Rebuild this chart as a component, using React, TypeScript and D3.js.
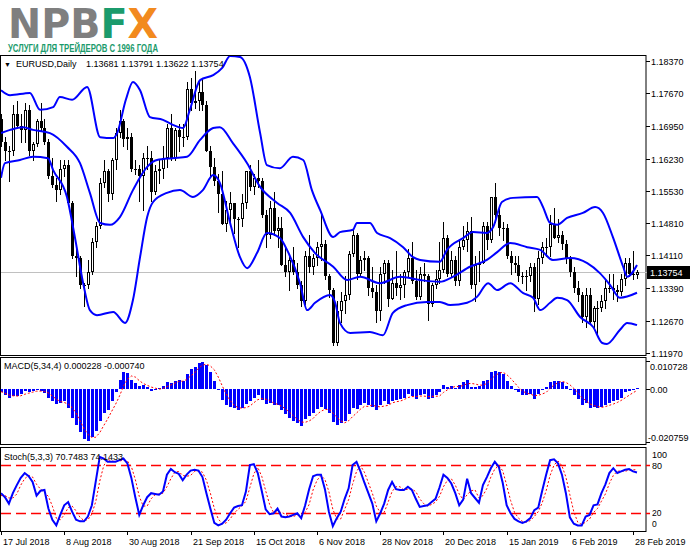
import React from "react";
import * as d3 from "d3";

const TIME_LABELS = ["17 Jul 2018", "8 Aug 2018", "30 Aug 2018", "21 Sep 2018", "15 Oct 2018", "6 Nov 2018", "28 Nov 2018", "20 Dec 2018", "15 Jan 2019", "6 Feb 2019", "28 Feb 2019"];
const BARS_PER_LABEL = 16;
const PRICE_TICKS = [1.1837, 1.1767, 1.1695, 1.1623, 1.1553, 1.1481, 1.1411, 1.1339, 1.1267, 1.1197];
const MACD_RANGE = [-0.020759, 0.010728];
const MACD_TICK_LABELS = ["0.010728", "0.00", "-0.020759"];
const STOCH_TICKS = [100, 80, 20, 0];
const STOCH_LEVELS = [80, 20];
const LAST_PRICE = 1.13754;

const OPEN = [
  1.1710, 1.1660, 1.1640, 1.1640, 1.1720, 1.1695, 1.1685, 1.1730, 1.1640, 1.1655,
  1.1705, 1.1690, 1.1660, 1.1585, 1.1565, 1.1555, 1.1600, 1.1610, 1.1525, 1.1410,
  1.1405, 1.1345, 1.1345, 1.1375, 1.1440, 1.1475, 1.1570, 1.1595, 1.1545, 1.1620,
  1.1680, 1.1705, 1.1665, 1.1670, 1.1600, 1.1600, 1.1585, 1.1625, 1.1625, 1.1550,
  1.1595, 1.1600, 1.1625, 1.1690, 1.1625, 1.1685, 1.1670, 1.1670, 1.1775, 1.1745,
  1.1750, 1.1770, 1.1740, 1.1640, 1.1605, 1.1575, 1.1545, 1.1480, 1.1510, 1.1525,
  1.1490, 1.1490, 1.1525, 1.1595, 1.1560, 1.1580, 1.1575, 1.1500, 1.1455, 1.1515,
  1.1465, 1.1470, 1.1390, 1.1375, 1.1400, 1.1375, 1.1345, 1.1310, 1.1410, 1.1385,
  1.1405, 1.1430, 1.1435, 1.1365, 1.1335, 1.1220, 1.1290, 1.1310, 1.1325, 1.1415,
  1.1455, 1.1370, 1.1400, 1.1405, 1.1340, 1.1330, 1.1290, 1.1370, 1.1395, 1.1315,
  1.1350, 1.1340, 1.1345, 1.1375, 1.1405, 1.1355, 1.1320, 1.1370, 1.1365, 1.1305,
  1.1345, 1.1360, 1.1380, 1.1450, 1.1370, 1.1400, 1.1355, 1.1430, 1.1445, 1.1465,
  1.1345, 1.1390, 1.1395, 1.1475, 1.1445, 1.1540, 1.1500, 1.1470, 1.1470, 1.1410,
  1.1395, 1.1390, 1.1365, 1.1365, 1.1365, 1.1385, 1.1315, 1.1405, 1.1430, 1.1430,
  1.1480, 1.1450, 1.1455, 1.1435, 1.1405, 1.1375, 1.1340, 1.1325, 1.1275, 1.1325,
  1.1265, 1.1295, 1.1295, 1.1310, 1.1340, 1.1340, 1.1335, 1.1330, 1.1360, 1.1395,
  1.1370, 1.13681,
];
const HIGH = [
  1.1720, 1.1670, 1.1650, 1.1740, 1.1750, 1.1720, 1.1745, 1.1740, 1.1660, 1.1710,
  1.1745, 1.1710, 1.1665, 1.1625, 1.1580, 1.1620, 1.1620, 1.1620, 1.1530, 1.1435,
  1.1410, 1.1350, 1.1400, 1.1450, 1.1485, 1.1580, 1.1620, 1.1600, 1.1625, 1.1690,
  1.1730, 1.1710, 1.1690, 1.1680, 1.1620, 1.1610, 1.1635, 1.1650, 1.1640, 1.1610,
  1.1620, 1.1650, 1.1700, 1.1720, 1.1690, 1.1700, 1.1700, 1.1790, 1.1800, 1.1815,
  1.1790, 1.1800, 1.1750, 1.1650, 1.1625, 1.1590, 1.1595, 1.1530, 1.1550, 1.1525,
  1.1495, 1.1545, 1.1595, 1.1610, 1.1590, 1.1620, 1.1580, 1.1510, 1.1530, 1.1550,
  1.1495, 1.1495, 1.1430, 1.1410, 1.1430, 1.1395, 1.1355, 1.1420, 1.1455, 1.1415,
  1.1440, 1.1500, 1.1445, 1.1370, 1.1340, 1.1310, 1.1330, 1.1365, 1.1420, 1.1470,
  1.1460, 1.1410, 1.1420, 1.1410, 1.1385, 1.1345, 1.1385, 1.1400, 1.1400, 1.1380,
  1.1420, 1.1370, 1.1380, 1.1425, 1.1440, 1.1380, 1.1385, 1.1395, 1.1370, 1.1350,
  1.1380, 1.1440, 1.1485, 1.1455, 1.1420, 1.1410, 1.1445, 1.1475, 1.1485, 1.1495,
  1.1410, 1.1420, 1.1485, 1.1485, 1.1540, 1.1570, 1.1520, 1.1485, 1.1480, 1.1420,
  1.1410, 1.1410, 1.1375, 1.1380, 1.1395, 1.1395, 1.1420, 1.1440, 1.1450, 1.1500,
  1.1515, 1.1490, 1.1465, 1.1445, 1.1410, 1.1385, 1.1355, 1.1330, 1.1340, 1.1340,
  1.1300, 1.1310, 1.1325, 1.1360, 1.1370, 1.1370, 1.1345, 1.1370, 1.1405, 1.1405,
  1.1420, 1.13791,
];
const LOW = [
  1.1650, 1.1620, 1.1575, 1.1630, 1.1690, 1.1660, 1.1660, 1.1630, 1.1620, 1.1650,
  1.1685, 1.1655, 1.1580, 1.1560, 1.1530, 1.1545, 1.1585, 1.1525, 1.1405, 1.1365,
  1.1340, 1.1300, 1.1340, 1.1370, 1.1430, 1.1470, 1.1560, 1.1530, 1.1535, 1.1600,
  1.1670, 1.1650, 1.1645, 1.1595, 1.1590, 1.1530, 1.1510, 1.1600, 1.1530, 1.1545,
  1.1570, 1.1580, 1.1605, 1.1620, 1.1620, 1.1640, 1.1650, 1.1665, 1.1730, 1.1735,
  1.1730, 1.1730, 1.1640, 1.1585, 1.1565, 1.1505, 1.1480, 1.1465, 1.1485, 1.1460,
  1.1430, 1.1475, 1.1515, 1.1555, 1.1545, 1.1560, 1.1495, 1.1430, 1.1450, 1.1455,
  1.1430, 1.1390, 1.1365, 1.1335, 1.1370, 1.1340, 1.1300, 1.1305, 1.1375, 1.1370,
  1.1390, 1.1400, 1.1360, 1.1320, 1.1215, 1.1215, 1.1265, 1.1285, 1.1315, 1.1410,
  1.1360, 1.1365, 1.1380, 1.1325, 1.1320, 1.1265, 1.1270, 1.1350, 1.1300, 1.1315,
  1.1325, 1.1315, 1.1320, 1.1365, 1.1350, 1.1315, 1.1315, 1.1355, 1.1270, 1.1300,
  1.1340, 1.1350, 1.1375, 1.1365, 1.1365, 1.1345, 1.1345, 1.1425, 1.1420, 1.1340,
  1.1310, 1.1355, 1.1395, 1.1425, 1.1440, 1.1485, 1.1455, 1.1445, 1.1405, 1.1370,
  1.1375, 1.1355, 1.1350, 1.1335, 1.1355, 1.1290, 1.1305, 1.1395, 1.1410, 1.1410,
  1.1450, 1.1440, 1.1425, 1.1395, 1.1365, 1.1330, 1.1310, 1.1265, 1.1255, 1.1260,
  1.1250, 1.1235, 1.1290, 1.1295, 1.1330, 1.1315, 1.1310, 1.1325, 1.1345, 1.1365,
  1.1360, 1.13622,
];
const CLOSE = [
  1.1660, 1.1640, 1.1640, 1.1720, 1.1695, 1.1685, 1.1730, 1.1640, 1.1655, 1.1705,
  1.1690, 1.1660, 1.1585, 1.1565, 1.1555, 1.1600, 1.1610, 1.1525, 1.1410, 1.1405,
  1.1345, 1.1345, 1.1375, 1.1440, 1.1475, 1.1570, 1.1595, 1.1545, 1.1620, 1.1680,
  1.1705, 1.1665, 1.1670, 1.1600, 1.1600, 1.1585, 1.1625, 1.1625, 1.1550, 1.1595,
  1.1600, 1.1625, 1.1690, 1.1625, 1.1685, 1.1670, 1.1670, 1.1775, 1.1745, 1.1750,
  1.1770, 1.1740, 1.1640, 1.1605, 1.1575, 1.1545, 1.1480, 1.1510, 1.1525, 1.1490,
  1.1490, 1.1525, 1.1595, 1.1560, 1.1580, 1.1575, 1.1500, 1.1455, 1.1515, 1.1465,
  1.1470, 1.1390, 1.1375, 1.1400, 1.1375, 1.1345, 1.1310, 1.1410, 1.1385, 1.1405,
  1.1430, 1.1435, 1.1365, 1.1335, 1.1220, 1.1290, 1.1310, 1.1325, 1.1415, 1.1455,
  1.1370, 1.1400, 1.1405, 1.1340, 1.1330, 1.1290, 1.1370, 1.1395, 1.1315, 1.1350,
  1.1340, 1.1345, 1.1375, 1.1405, 1.1355, 1.1320, 1.1370, 1.1365, 1.1305, 1.1345,
  1.1360, 1.1380, 1.1450, 1.1370, 1.1400, 1.1355, 1.1430, 1.1445, 1.1465, 1.1345,
  1.1390, 1.1395, 1.1475, 1.1445, 1.1540, 1.1500, 1.1470, 1.1470, 1.1410, 1.1395,
  1.1390, 1.1365, 1.1365, 1.1365, 1.1385, 1.1315, 1.1405, 1.1430, 1.1430, 1.1480,
  1.1450, 1.1455, 1.1435, 1.1405, 1.1375, 1.1340, 1.1325, 1.1275, 1.1325, 1.1265,
  1.1295, 1.1295, 1.1310, 1.1340, 1.1340, 1.1335, 1.1330, 1.1360, 1.1395, 1.1370,
  1.1368, 1.13754,
];

// Bollinger bands: [bar index, price]
const BB_UPPER = [
  [0, 1.1773], [2.3, 1.1762], [7.3, 1.1767], [9.9, 1.1730], [13.2, 1.1736], [14.9, 1.1758], [18, 1.1752],
  [21.8, 1.1780], [25.1, 1.1670], [28.4, 1.1668], [29.4, 1.1679], [31.6, 1.1752], [33.4, 1.1791], [35.2, 1.1773],
  [37.7, 1.1714], [41, 1.1708], [43.5, 1.1697], [46.1, 1.1690], [47.8, 1.1730], [50.4, 1.1795], [53.7, 1.1806],
  [56, 1.1822], [58, 1.1848], [60.5, 1.1846], [63, 1.1802], [65.6, 1.1679], [67.3, 1.1609], [70.6, 1.1602],
  [73.9, 1.1627], [76.5, 1.1620], [78.7, 1.1554], [80.8, 1.1510], [84.1, 1.1451], [85.8, 1.1462], [89.1, 1.1467],
  [90.1, 1.1482], [93.4, 1.1482], [95.2, 1.1460], [98.5, 1.1449], [101.8, 1.1429], [104.3, 1.1407], [106.1, 1.1401],
  [111.1, 1.1397], [112.9, 1.1423], [117, 1.1449], [119.5, 1.1462], [123, 1.1460], [124.6, 1.1473], [126.8, 1.1528],
  [129.6, 1.1537], [135.7, 1.1539], [137.2, 1.1517], [139, 1.1482], [140.8, 1.1478], [143.3, 1.1493], [147.3, 1.1504],
  [150.4, 1.1517], [152.4, 1.1504], [154.9, 1.1451], [157.5, 1.1386], [158.5, 1.1364], [161, 1.1390],
];
const BB_MIDDLE = [
  [0, 1.1679], [2.3, 1.1686], [5.6, 1.1692], [8.1, 1.1686], [12.4, 1.1679], [16.7, 1.1649], [20, 1.1613],
  [22.5, 1.1548], [25.1, 1.1482], [27.6, 1.1478], [30.1, 1.1495], [33.4, 1.1554], [37, 1.1605], [39.5, 1.1620],
  [43.5, 1.1624], [47.1, 1.1627], [50.4, 1.1664], [53.7, 1.1690], [55.4, 1.1692], [58.7, 1.1657], [62.3, 1.1613],
  [65.6, 1.1561], [69.9, 1.1526], [73.2, 1.1504], [76.5, 1.1451], [79.5, 1.1416], [84.1, 1.1386], [87.6, 1.1357],
  [90.9, 1.1364], [95.9, 1.1350], [101, 1.1364], [106.1, 1.1357], [111.1, 1.1353], [114.4, 1.1364], [118.7, 1.1386],
  [123, 1.1401], [125.6, 1.1418], [128.9, 1.1438], [133.2, 1.1429], [136.5, 1.1423], [139.7, 1.1401], [144.1, 1.1405],
  [148.4, 1.1394], [151.6, 1.1372], [154.2, 1.1346], [156.7, 1.1318], [161, 1.1329],
];
const BB_LOWER = [
  [0, 1.1581], [1, 1.1613], [4.8, 1.1620], [8.1, 1.1627], [11.9, 1.1624], [13.2, 1.1598], [16.7, 1.1539],
  [18.7, 1.1451], [20.8, 1.1350], [22.5, 1.1291], [24.3, 1.1280], [28.4, 1.1287], [31.4, 1.1263], [33.4, 1.1313],
  [35.2, 1.1407], [37, 1.1495], [38.5, 1.1528], [42, 1.1548], [45.3, 1.1554], [48.6, 1.1539], [51.1, 1.1554],
  [53.7, 1.1587], [55.4, 1.1570], [58, 1.1482], [60.5, 1.1407], [62.3, 1.1383], [64.8, 1.1416], [67.3, 1.1460],
  [70.6, 1.1449], [72.4, 1.1423], [75.7, 1.1350], [77.5, 1.1291], [79.5, 1.1307], [83.3, 1.1324], [84.6, 1.1307],
  [85.8, 1.1263], [88.4, 1.1241], [93.4, 1.1243], [96.7, 1.1236], [99.2, 1.1285], [102.8, 1.1302], [107.8, 1.1309],
  [111.1, 1.1309], [113.7, 1.1302], [118, 1.1307], [120.5, 1.1320], [123.3, 1.1350], [125.6, 1.1335], [128.9, 1.1350],
  [132.2, 1.1328], [134.7, 1.1318], [136.5, 1.1291], [139, 1.1307], [140.8, 1.1318], [143.3, 1.1313], [146.6, 1.1276],
  [149.9, 1.1254], [152.2, 1.1219], [153.4, 1.1217], [156.7, 1.1248], [158.5, 1.1263], [161, 1.1258],
];

const MACD_MAIN = [
  -0.0015, -0.0025, -0.0035, -0.0030, -0.0028, -0.0020, -0.0010, -0.0015, -0.0010, -0.0005,
  -0.0010, -0.0018, -0.0035, -0.0050, -0.0060, -0.0055, -0.0050, -0.0075, -0.0115, -0.0140,
  -0.0170, -0.0195, -0.0205, -0.0190, -0.0165, -0.0125, -0.0095, -0.0085, -0.0050, -0.0015,
  0.0035, 0.0065, 0.0060, 0.0035, 0.0020, 0.0010, 0.0015, 0.0005, -0.0008, -0.0005,
  0.0002, 0.0010, 0.0025, 0.0020, 0.0030, 0.0035, 0.0030, 0.0055, 0.0075, 0.0085,
  0.0100, 0.0105, 0.0090, 0.0065, 0.0030, -0.0005, -0.0045, -0.0065, -0.0070, -0.0075,
  -0.0085, -0.0075, -0.0060, -0.0050, -0.0035, -0.0025, -0.0045, -0.0060, -0.0055, -0.0065,
  -0.0065, -0.0085, -0.0100, -0.0115, -0.0125, -0.0135, -0.0145, -0.0120, -0.0105, -0.0095,
  -0.0080, -0.0070, -0.0080, -0.0095, -0.0130, -0.0140, -0.0135, -0.0125, -0.0100, -0.0075,
  -0.0080, -0.0065, -0.0055, -0.0065, -0.0070, -0.0085, -0.0065, -0.0050, -0.0060, -0.0050,
  -0.0045, -0.0040, -0.0035, -0.0020, -0.0030, -0.0040, -0.0025, -0.0020, -0.0040, -0.0035,
  -0.0025, -0.0015, 0.0015, 0.0005, 0.0010, 0.0002, 0.0015, 0.0025, 0.0035, 0.0005,
  0.0005, 0.0010, 0.0030, 0.0035, 0.0065, 0.0070, 0.0065, 0.0055, 0.0030, 0.0010,
  -0.0005, -0.0015, -0.0025, -0.0025, -0.0020, -0.0040, -0.0020, -0.0005, 0.0005, 0.0025,
  0.0030, 0.0030, 0.0025, 0.0010, -0.0005, -0.0025, -0.0040, -0.0065, -0.0055, -0.0075,
  -0.0070, -0.0075, -0.0070, -0.0065, -0.0055, -0.0050, -0.0045, -0.0035, -0.0015, -0.0010,
  -0.0005, 0.000228,
];
const MACD_SIGNAL = [
  -0.0012, -0.0018, -0.0025, -0.0028, -0.0029, -0.0028, -0.0022, -0.0018, -0.0014, -0.0010,
  -0.0010, -0.0011, -0.0017, -0.0029, -0.0041, -0.0050, -0.0054, -0.0060, -0.0074, -0.0095,
  -0.0125, -0.0155, -0.0178, -0.0190, -0.0189, -0.0171, -0.0144, -0.0118, -0.0089, -0.0061,
  -0.0029, 0.0009, 0.0036, 0.0049, 0.0045, 0.0031, 0.0020, 0.0013, 0.0006, 0.0002,
  -0.0002, 0.0000, 0.0008, 0.0014, 0.0021, 0.0028, 0.0029, 0.0035, 0.0049, 0.0061,
  0.0079, 0.0091, 0.0095, 0.0088, 0.0073, 0.0045, 0.0011, -0.0021, -0.0046, -0.0064,
  -0.0074, -0.0076, -0.0074, -0.0068, -0.0055, -0.0043, -0.0039, -0.0041, -0.0046, -0.0056,
  -0.0061, -0.0068, -0.0079, -0.0091, -0.0106, -0.0119, -0.0130, -0.0131, -0.0126, -0.0116,
  -0.0100, -0.0088, -0.0081, -0.0081, -0.0094, -0.0111, -0.0125, -0.0133, -0.0125, -0.0109,
  -0.0095, -0.0080, -0.0069, -0.0069, -0.0064, -0.0069, -0.0071, -0.0068, -0.0065, -0.0056,
  -0.0051, -0.0049, -0.0043, -0.0035, -0.0031, -0.0031, -0.0029, -0.0029, -0.0031, -0.0030,
  -0.0030, -0.0029, -0.0015, -0.0005, 0.0004, 0.0008, 0.0008, 0.0012, 0.0019, 0.0020,
  0.0018, 0.0014, 0.0013, 0.0020, 0.0035, 0.0050, 0.0059, 0.0064, 0.0055, 0.0040,
  0.0023, 0.0005, -0.0009, -0.0018, -0.0021, -0.0028, -0.0026, -0.0021, -0.0015, 0.0001,
  0.0014, 0.0023, 0.0028, 0.0024, 0.0015, 0.0001, -0.0015, -0.0034, -0.0046, -0.0059,
  -0.0066, -0.0069, -0.0073, -0.0070, -0.0065, -0.0060, -0.0054, -0.0046, -0.0036, -0.0026,
  -0.0016, -0.00074,
];

const STOCH_MAIN = [
  45, 40, 32, 45, 55, 64, 70, 66, 59, 42,
  48, 49, 26, 12, 5, 18, 30, 34, 22, 12,
  10, 10, 16, 30, 60, 90, 88, 84, 84, 84,
  86, 88, 82, 64, 40, 18, 30, 40, 45, 44,
  43, 47, 68, 75, 71, 69, 61, 68, 73, 74,
  73, 65, 45, 26, 8, 5, 7, 12, 20, 27,
  29, 30, 47, 80, 81, 70, 48, 25, 19, 20,
  26, 16, 15, 16, 18, 20, 14, 30, 50, 66,
  68, 68, 50, 22, 4, 14, 22, 38, 51, 80,
  84, 72, 58, 45, 32, 10, 20, 32, 49, 59,
  50, 49, 49, 53, 49, 38, 28, 29, 30, 34,
  38, 52, 68, 64, 57, 45, 30, 37, 63, 45,
  39, 33, 55, 65, 76, 84, 78, 58, 30, 20,
  13, 10, 8, 10, 14, 24, 27, 48, 68, 86,
  87, 82, 68, 45, 15, 7, 5, 5, 16, 18,
  30, 31, 45, 56, 70, 76, 70, 72, 74, 75,
  72, 70.7483,
];
const STOCH_SIGNAL = [
  42, 42, 39, 39, 44, 55, 63, 67, 65, 56,
  50, 46, 41, 29, 14, 12, 18, 27, 29, 23,
  15, 11, 12, 19, 35, 60, 79, 87, 85, 84,
  85, 86, 85, 78, 62, 41, 29, 29, 38, 43,
  44, 45, 53, 63, 71, 72, 67, 66, 67, 72,
  73, 71, 61, 45, 26, 13, 7, 8, 13, 20,
  25, 29, 35, 52, 69, 77, 66, 48, 31, 21,
  22, 21, 19, 16, 16, 18, 17, 21, 31, 49,
  61, 67, 62, 47, 25, 13, 13, 25, 37, 56,
  72, 79, 71, 58, 45, 29, 21, 21, 34, 47,
  53, 53, 49, 50, 50, 47, 38, 32, 29, 31,
  34, 41, 53, 61, 63, 55, 44, 37, 43, 48,
  49, 39, 42, 51, 65, 75, 79, 73, 55, 36,
  21, 14, 10, 9, 11, 16, 22, 33, 48, 67,
  80, 85, 79, 65, 43, 22, 9, 6, 9, 13,
  21, 26, 35, 44, 57, 67, 72, 73, 72, 74,
  74, 74.1433,
];

const FONT = "'Liberation Sans', Arial, sans-serif";

export default function App() {
  const W = 691;
  const H = 549;
  const axisX = 646;
  const mainP = { top: 55.5, bottom: 355.5 };
  const macdP = { top: 357.5, bottom: 444.5 };
  const stochP = { top: 447.5, bottom: 531.5 };
  const n = CLOSE.length;

  const x = d3.scaleLinear().domain([0, n - 1]).range([1, 637]);
  const yP = d3.scaleLinear().domain([1.1197, 1.1837]).range([353, 61]);
  const yM = d3.scaleLinear().domain(MACD_RANGE).range([442, 361]);
  const yS = d3.scaleLinear().domain([0, 100]).range([529.4, 448.9]);
  const fmt5 = d3.format(".5f");

  const bandLine = d3
    .line<number[]>()
    .x((d) => x(d[0]))
    .y((d) => yP(d[1]))
    .curve(d3.curveMonotoneX);
  const macdSig = d3
    .line<number>()
    .x((_, i) => x(i))
    .y((d) => yM(d));
  const stochLine = d3
    .line<number>()
    .x((_, i) => x(i))
    .y((d) => yS(d));

  const yZero = Math.round(yM(0));
  const lastY = Math.round(yP(LAST_PRICE));

  return (
    <svg
      width={W}
      height={H}
      style={{ position: "absolute", left: 0, top: 0, background: "#fff" }}
      fontFamily={FONT}
    >
      <rect x={0} y={0} width={W} height={H} fill="#fff" />
      <defs>
        <clipPath id="clipMain">
          <rect x={1} y={56} width={axisX - 1} height={299} />
        </clipPath>
        <clipPath id="clipMacd">
          <rect x={1} y={358} width={axisX - 1} height={86} />
        </clipPath>
        <clipPath id="clipStoch">
          <rect x={1} y={448} width={axisX - 1} height={83} />
        </clipPath>
      </defs>

      {/* Logo */}
      <g transform="translate(8,38) scale(1,1.25)">
        <text x={0} y={0} fontFamily="'DejaVu Sans', sans-serif" fontWeight="bold" fontSize={32} textLength={150} lengthAdjust="spacingAndGlyphs">
          <tspan fill="#7f7f7f">NPB</tspan>
          <tspan fill="#1b9b6c">F</tspan>
          <tspan fill="#f28a1e">X</tspan>
        </text>
      </g>
      <text x={8} y={52} fill="#1b9b6c" fontWeight="bold" fontSize={10.5} fontFamily="'Liberation Sans', sans-serif" textLength={150} lengthAdjust="spacingAndGlyphs">
        УСЛУГИ ДЛЯ ТРЕЙДЕРОВ С 1996 ГОДА
      </text>

      {/* Panel frames */}
      {[mainP, macdP, stochP].map((p, k) => (
        <rect key={k} x={0.5} y={p.top} width={axisX - 0.5} height={p.bottom - p.top} fill="none" stroke="#000" strokeWidth={1} />
      ))}

      {/* Main chart */}
      <g clipPath="url(#clipMain)">
        <line x1={1} x2={axisX} y1={lastY + 0.5} y2={lastY + 0.5} stroke="#c0c0c0" strokeWidth={1} />
        {OPEN.map((o, i) => {
          const c = CLOSE[i];
          const cx = Math.round(x(i));
          const yh = Math.round(yP(HIGH[i]));
          const yl = Math.round(yP(LOW[i]));
          const yo = Math.round(yP(o));
          const yc = Math.round(yP(c));
          const top = Math.min(yo, yc);
          const h = Math.abs(yo - yc);
          const bull = c >= o;
          return (
            <g key={i}>
              <line x1={cx + 0.5} x2={cx + 0.5} y1={yh} y2={yl + 1} stroke="#000" strokeWidth={1} />
              {h < 2 ? (
                <rect x={cx - 1} y={top} width={3} height={1} fill="#000" />
              ) : bull ? (
                <rect x={cx - 0.5} y={top + 0.5} width={2} height={h - 1} fill="#fff" stroke="#000" strokeWidth={1} />
              ) : (
                <rect x={cx - 1} y={top} width={3} height={h} fill="#000" />
              )}
            </g>
          );
        })}
        {[BB_UPPER, BB_MIDDLE, BB_LOWER].map((b, k) => (
          <path key={k} d={bandLine(b) || ""} fill="none" stroke="#0000ff" strokeWidth={2} />
        ))}
      </g>
      <text y={67} fontSize={9} fill="#000">
        <tspan x={4} fontSize={7}>▼</tspan>
        <tspan x={16}>EURUSD,Daily</tspan>
        <tspan x={86}>{[OPEN[n - 1], HIGH[n - 1], LOW[n - 1], CLOSE[n - 1]].map(fmt5).join(" ")}</tspan>
      </text>

      {/* Price axis */}
      {PRICE_TICKS.map((t) => {
        const yy = Math.round(yP(t));
        return (
          <g key={t}>
            <line x1={axisX} x2={axisX + 4} y1={yy + 0.5} y2={yy + 0.5} stroke="#000" />
            <text x={651} y={yy + 3.5} fontSize={9} fill="#000">{fmt5(t)}</text>
          </g>
        );
      })}
      <line x1={axisX} x2={axisX + 4} y1={lastY + 0.5} y2={lastY + 0.5} stroke="#c0c0c0" />
      <rect x={647} y={lastY - 6} width={43} height={13} fill="#000" />
      <text x={650} y={lastY + 4} fontSize={9} fill="#fff">{fmt5(LAST_PRICE)}</text>

      {/* MACD */}
      <g clipPath="url(#clipMacd)">
        {MACD_MAIN.map((v, i) => {
          const cx = Math.round(x(i));
          const yv = Math.round(yM(v));
          return <rect key={i} x={cx - 1} y={Math.min(yv, yZero)} width={3} height={Math.max(1, Math.abs(yv - yZero))} fill="#0000ff" />;
        })}
        <path d={macdSig(MACD_SIGNAL) || ""} fill="none" stroke="#ff0000" strokeWidth={1} strokeDasharray="2,2" />
      </g>
      <text x={4} y={369} fontSize={9} fill="#000">
        MACD(5,34,4) {MACD_MAIN[n - 1].toFixed(6)} {MACD_SIGNAL[n - 1].toFixed(6)}
      </text>
      {[MACD_RANGE[1], 0, MACD_RANGE[0]].map((v, k) => {
        const yy = Math.round(yM(v));
        const ty = k === 0 ? yy + 8.5 : k === 2 ? yy - 1.5 : yy + 3.5;
        return (
          <g key={k}>
            <line x1={axisX} x2={axisX + 4} y1={yy + 0.5} y2={yy + 0.5} stroke="#000" />
            <text x={k === 2 ? 648 : 650} y={ty} fontSize={9} fill="#000">{MACD_TICK_LABELS[k]}</text>
          </g>
        );
      })}

      {/* Stochastic */}
      {STOCH_LEVELS.map((lv) => (
        <line key={lv} x1={1} x2={axisX + 4} y1={Math.round(yS(lv)) + 0.5} y2={Math.round(yS(lv)) + 0.5} stroke="#ff0000" strokeWidth={1.3} strokeDasharray="10,5" />
      ))}
      <g clipPath="url(#clipStoch)">
        <path d={stochLine(STOCH_SIGNAL) || ""} fill="none" stroke="#ff0000" strokeWidth={1} strokeDasharray="2,2" />
        <path d={stochLine(STOCH_MAIN) || ""} fill="none" stroke="#0000ff" strokeWidth={2} />
      </g>
      <text x={4} y={460} fontSize={9} fill="#000">
        Stoch(5,3,3) {STOCH_MAIN[n - 1].toFixed(4)} {STOCH_SIGNAL[n - 1].toFixed(4)}
      </text>
      {STOCH_TICKS.map((t) => {
        const yy = Math.round(yS(t));
        const ty = t === 100 ? yy + 9 : t === 0 ? yy - 2.5 : t === 20 ? yy + 2.5 : yy + 3.5;
        return (
          <text key={t} x={652} y={ty} fontSize={t === 0 || t === 20 ? 8.5 : 9} fill="#000">{t}</text>
        );
      })}

      {/* Time axis */}
      {TIME_LABELS.map((lab, k) => {
        const tx = Math.round(x(k * BARS_PER_LABEL));
        return (
          <g key={lab}>
            <line x1={tx + 0.5} x2={tx + 0.5} y1={531} y2={535} stroke="#000" />
            <text x={tx + 2} y={545} fontSize={9} fill="#000">{lab}</text>
          </g>
        );
      })}
    </svg>
  );
}
